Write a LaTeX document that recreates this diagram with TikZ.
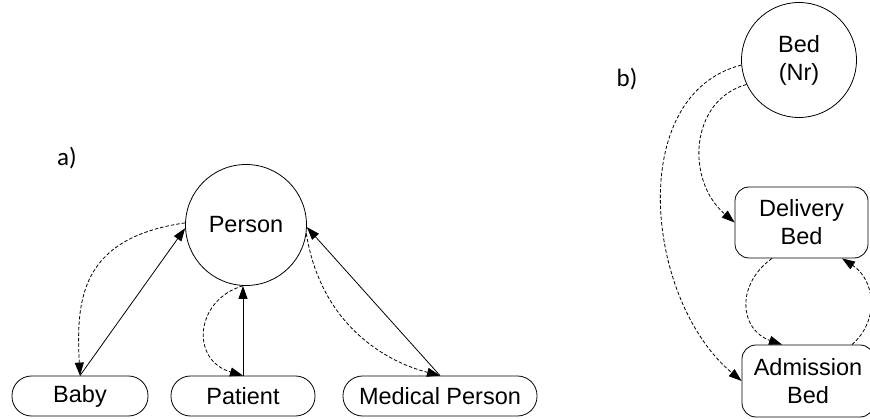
\documentclass[tikz,border=0pt]{standalone}
\usepackage{fontspec}
\setmainfont{Liberation Sans}
\newfontfamily\partfont{Carlito}
\usetikzlibrary{arrows.meta}
\begin{document}
\begin{tikzpicture}[x=1pt,y=-1pt,
  every node/.style={font=\fontsize{23.5}{28}\selectfont, inner sep=0pt},
  entity/.style={draw, circle, line width=0.8pt, align=center},
  pill/.style={draw, rectangle, rounded corners=19.5pt, line width=0.8pt, minimum height=40pt},
  roundbox/.style={draw, rectangle, rounded corners=14pt, line width=0.8pt, align=center},
  link/.style={line width=0.8pt, -{Triangle[length=13pt,width=9pt]}},
  dlink/.style={link, dash pattern=on 3.5pt off 2pt},
  partlabel/.style={font=\partfont\fontsize{25}{30}\selectfont}]
\useasboundingbox (0,0) rectangle (870,419);

% part a): generalisation of Person
\node[entity, minimum size=121pt] (person) at (246,225) {Person};
\node[pill, minimum width=136pt] (baby) at (80,396) {Baby};
\node[pill, minimum width=144pt] (patient) at (243,396) {Patient};
\node[pill, minimum width=194pt] (medical) at (440,396) {Medical Person};
\node[partlabel] (la) at (67,158) {a)};

\draw[link] (baby.north) -- (person.183);
\draw[dlink] (person.178) .. controls (80,238) and (76,300) .. (baby.north);
\draw[link] (patient.north) -- (patient.north |- person.south);
\draw[dlink] (person.267) .. controls (195,300) and (190,360) .. (patient.north);
\draw[link] (medical.north) -- (person.358);
\draw[dlink] (person.352) .. controls (320,320) and (380,360) .. (medical.north);

% part b): beds
\node[entity, minimum size=115pt] (bed) at (799,60) {Bed\\(Nr)};
\node[roundbox, minimum width=133pt, minimum height=71pt] (delivery) at (801.5,222.5) {Delivery\\Bed};
\node[roundbox, minimum width=132pt, minimum height=72pt] (admission) at (808,381) {Admission\\Bed};
\node[partlabel] (lb) at (627,79) {b)};

\draw[dlink] (bed.205) .. controls (690,100) and (685,180) .. (delivery.west);
\draw[dlink] (bed.185) .. controls (625,95) and (645,300) .. (admission.west);
\draw[dlink] ([xshift=-29.5pt]delivery.south) .. controls (735,285) and (740,330) .. ([xshift=-26pt]admission.north);
\draw[dlink] ([xshift=44pt]admission.north) .. controls (880,320) and (875,280) .. ([xshift=40.5pt]delivery.south);
\end{tikzpicture}
\end{document}
